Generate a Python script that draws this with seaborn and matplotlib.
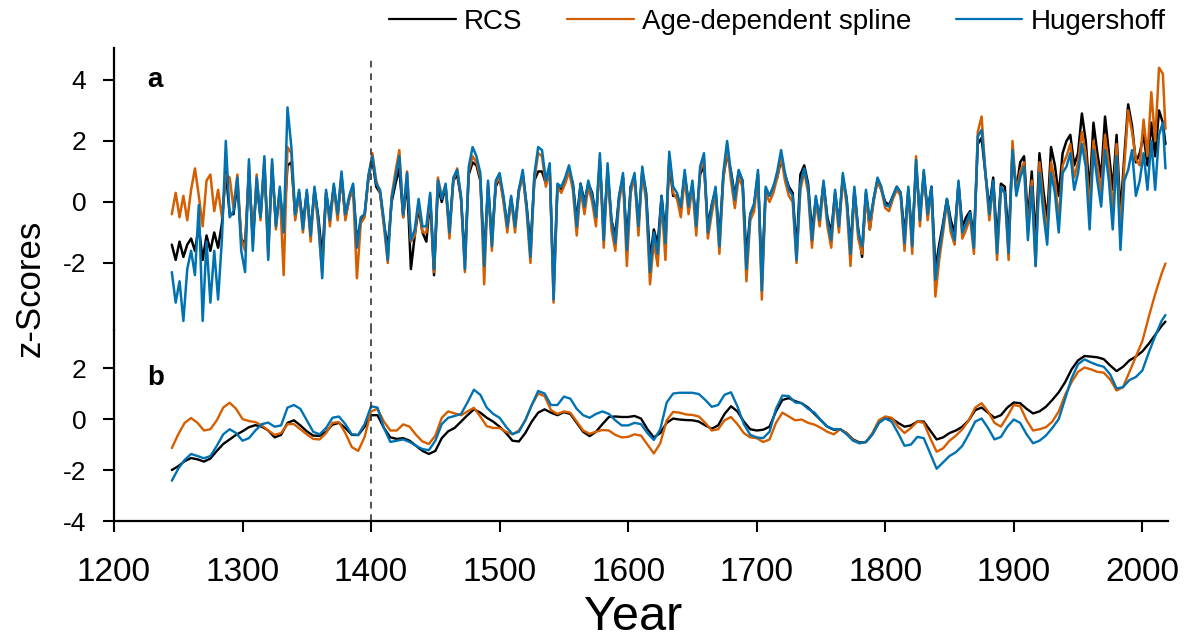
import numpy as np
import pandas as pd
import matplotlib
matplotlib.use("Agg")
import matplotlib.pyplot as plt
import seaborn as sns

# ---------------- data ----------------
series_names = ["RCS", "Age-dependent spline", "Hugershoff"]
series_colors = ["#000000", "#D55E00", "#0072B2"]

# panel a: annual-resolution series, sampled every 3 years
years_a = list(range(1245, 2017, 3)) + [2018]

hug_a = [
    -2.3, -3.3, -2.6, -3.9, -2.2, -1.6, -2.4, -0.1, -3.9, -1.3,
    -3.3, -1.6, -3.2, -1.2, 2.0, -0.5, -0.3, 0.8, -1.6, -2.3,
    1.4, -1.6, 0.8, -0.5, 1.5, -1.9, 1.4, -0.8, 0.5, -1.0,
    3.1, 1.8, -0.4, 0.4, -0.9, 0.4, -1.1, 0.5, -0.6, -2.5,
    0.4, -0.6, 0.6, -0.4, 1.0, -0.4, 0.2, 0.6, -1.5, -0.5,
    -0.4, 0.9, 1.5, 0.6,
    0.4, -0.6, -1.9, 0.1, 0.8, 1.5, -0.4, 0.95, -1.25, -0.9,
    0.1, -0.8, -0.8, 0.3, -2.2, 0.7, 0.1, 0.6, -1.0, 0.8,
    1.05, 0.2, -2.2, 1.15, 1.8, 1.5, 0.95, -2.1, 0.7, -1.45,
    0.7, 0.95, 0.2, -0.8, 0.2, -0.8, 0.4, 1.05, -0.15, -1.8,
    0.9, 1.8, 1.7, 0.7, 1.27, -3.2, 0.6, 0.5, 0.8, 1.2,
    0.6, -0.8, 0.6, -0.15, 0.7, 0.2, -0.5, 1.6, -1.25, 1.27,
    -0.6, -1.35, 0.2, 0.95, -1.57, 0.5, 0.95, -0.8, 1.16, 0.2,
    -2.3, -1.0, -1.7, 0.2, -1.35, 1.65, 0.5, 0.3, -0.15, 1.05,
    -0.15, 0.7, -0.8, 1.16, 1.6, -1.0, -0.15, 0.5, -1.45, 0.95,
    2.0, 0.95, 0.07, 1.05, 0.7, -2.2, -0.4, -0.05, 1.05, -2.9,
    0.5, 0.2, 0.5, 1.0, 1.7, 0.95, 0.4, 0.2, -1.9,
    0.6, 1.1, 0.5, -1.25, 0.2, -0.6, 0.7, -0.6, -1.25, 0.4,
    -0.8, 0.95, 0.1, -1.7, 0.5, -1.0, -1.45, 0.4, -0.6, 0.1,
    0.8, 0.5, -0.1, -0.15, 0.2, 0.5, 0.3, -1.35, 0.5, -1.45,
    1.38, -0.6, 1.05, -0.4, 0.5, -2.55, -1.6, -0.8, 0.1, -0.8,
    -1.25, 0.7, -1.0, -0.7, -0.35, -1.5, 2.15, 2.36, 0.95, -0.4,
    0.7, -1.68, 0.5, 0.3, -1.68, 1.7, 0.2, 0.8, 1.16, -1.25,
    0.5, -2.1, 0.95, -0.35, -1.4, 0.95, 0.3, -1.0, 0.95, 1.16,
    1.6, 0.4, 0.95, 1.9, 1.16, -0.9, 1.7, 0.7, -0.15, 1.7,
    0.7, -0.9, 1.5, -1.57, 0.7, 1.05, 1.7, 0.2, 0.7, 1.6,
    0.4, 2.0, 0.4, 2.2, 2.6, 1.1,
]

rcs_a = [
    -1.4, -1.9, -1.3, -1.8, -1.4, -1.2, -1.6, -0.8, -1.9, -1.1,
    -1.6, -1.0, -1.5, -0.7, 1.0, -0.4, -0.4, 0.6, -1.2, -1.4,
    1.0, -1.2, 0.6, -0.5, 1.2, -1.4, 1.1, -0.7, 0.3, -0.8,
    1.2, 1.3, -0.5, 0.3, -0.7, 0.3, -1.0, 0.4, -0.5, -1.8,
    0.3, -0.5, 0.5, -0.4, 0.8, -0.5, 0.1, 0.5, -1.3, -0.6,
    -0.4, 0.8, 1.4, 0.5,
    0.3, -0.7, -1.5, 0.0, 0.6, 1.1, -0.5, 0.7, -2.2, -1.1,
    -0.2, -1.0, -1.3, 0.1, -2.4, 0.5, 0.0, 0.5, -0.9, 0.7,
    0.9, 0.1, -1.9, 0.9, 1.3, 1.2, 0.7, -1.8, 0.5, -1.2,
    0.5, 0.8, 0.1, -0.8, 0.1, -0.8, 0.4, 0.9, -0.1, -1.5,
    0.7, 1.0, 1.0, 0.6, 1.0, -2.8, 0.5, 0.4, 0.7, 1.0,
    0.6, -0.6, 0.6, 0.0, 0.6, 0.3, -0.5, 1.3, -1.0, 1.0,
    -0.6, -1.1, 0.2, 0.8, -1.3, 0.5, 0.8, -0.7, 1.0, 0.3,
    -1.9, -0.9, -1.4, 0.2, -1.1, 1.3, 0.2, 0.2, -0.2, 0.9,
    0.0, 0.5, -0.6, 0.9, 1.2, -0.8, -0.1, 0.4, -1.2, 0.8,
    1.6, 1.0, 0.2, 1.0, 0.7, -1.8, -0.4, -0.1, 0.9, -2.5,
    0.4, 0.2, 0.5, 0.8, 1.4, 0.9, 0.5, 0.3, -1.6,
    0.9, 1.2, 0.6, -1.0, 0.1, -0.5, 0.6, -0.5, -1.0, 0.3,
    -0.7, 0.8, 0.1, -1.5, 0.4, -0.9, -1.8, 0.3, -0.9, 0.1,
    0.7, 0.4, 0.0, -0.1, 0.2, 0.5, 0.3, -1.1, 0.4, -1.2,
    1.2, -0.5, 0.9, -0.3, 0.5, -2.2, -1.4, -0.7, 0.1, -0.6,
    -1.0, 0.6, -0.8, -0.5, -0.3, -1.2, 1.9, 2.1, 0.9, -0.2,
    0.8, -1.3, 0.6, 0.5, -1.2, 1.6, 0.4, 1.3, 1.5, -0.6,
    1.0, -1.3, 1.6, 0.4, -0.6, 1.8, 1.2, 0.2, 1.6, 2.0,
    2.2, 1.2, 1.6, 2.9, 2.0, 0.3, 2.6, 1.6, 0.8, 2.8,
    1.6, 0.4, 2.2, -0.4, 1.5, 3.2, 2.5, 1.3, 1.6, 2.2,
    1.2, 2.6, 1.5, 3.0, 2.6, 1.9,
]

age_a = [
    -0.4, 0.3, -0.5, 0.2, -0.6, 0.4, 1.1, 0.2, -0.8, 0.7,
    0.9, -0.3, 0.4, -0.5, 0.9, 0.8, -0.2, 0.9, -1.2, -1.6,
    1.2, -1.4, 0.9, -0.6, 1.4, -1.8, 1.3, -0.9, 0.4, -2.4,
    1.8, 1.6, -0.6, 0.3, -1.0, 0.3, -1.3, 0.4, -0.8, -2.3,
    0.3, -0.8, 0.5, -0.6, 0.9, -0.6, 0.1, 0.4, -2.5, -0.7,
    -0.5, 0.8, 1.6, 0.7,
    0.3, -0.8, -2.0, 0.2, 1.0, 1.7, -0.5, 1.0, -1.3, -1.1,
    0.0, -1.0, -1.0, 0.2, -2.3, 0.8, 0.2, 0.5, -1.2, 0.7,
    1.1, 0.1, -2.3, 1.0, 1.5, 1.3, 0.8, -2.7, 0.6, -1.6,
    0.6, 0.8, 0.0, -1.0, 0.1, -1.0, 0.3, 0.9, -0.3, -2.0,
    0.7, 1.6, 1.5, 0.5, 1.1, -3.3, 0.5, 0.3, 0.6, 1.0,
    0.4, -1.1, 0.4, -0.4, 0.5, 0.0, -0.8, 1.4, -1.5, 1.1,
    -0.9, -1.6, 0.0, 0.8, -2.1, 0.3, 0.8, -1.1, 1.0, 0.0,
    -2.7, -1.3, -2.1, 0.0, -1.9, 1.5, 0.3, 0.1, -0.5, 0.8,
    -0.4, 0.5, -1.1, 1.0, 1.4, -1.2, -0.4, 0.3, -1.7, 0.7,
    1.8, 0.7, -0.2, 0.8, 0.5, -2.6, -0.6, -0.3, 0.9, -3.2,
    0.3, 0.0, 0.3, 0.8, 1.5, 0.7, 0.2, 0.0, -2.0,
    0.4, 1.0, 0.3, -1.5, 0.0, -0.8, 0.5, -0.8, -1.5, 0.2,
    -1.0, 0.8, -0.1, -2.1, 0.3, -1.2, -1.7, 0.2, -0.9, 0.0,
    0.7, 0.4, -0.2, -0.3, 0.1, 0.4, 0.2, -1.6, 0.4, -1.7,
    1.5, -0.8, 1.0, -0.6, 0.4, -3.1, -1.9, -1.0, 0.0, -1.0,
    -1.4, 0.6, -1.2, -0.9, -0.5, -1.7, 2.3, 2.8, 0.9, -0.6,
    0.6, -1.9, 0.4, 0.3, -1.9, 2.0, 0.3, 1.0, 1.3, -1.0,
    0.7, -2.1, 1.3, 0.0, -1.0, 1.3, 0.7, -0.6, 1.2, 1.5,
    1.9, 0.8, 1.3, 2.3, 1.6, -0.3, 2.0, 1.2, 0.3, 2.2,
    1.2, -0.3, 1.9, -1.0, 1.2, 3.0, 2.3, 1.4, 1.2, 2.7,
    1.5, 3.6, 2.0, 4.4, 4.2, 2.4,
]

# panel b: smoothed series, sampled every 5 years
years_b = list(range(1245, 2016, 5)) + [2018]

rcs_b = [
    -2.00, -1.85, -1.65, -1.53, -1.58, -1.67, -1.55, -1.25, -0.98, -0.80,
    -0.62, -0.48, -0.32, -0.24, -0.30, -0.45, -0.72, -0.62, -0.15, -0.05,
    -0.25, -0.48, -0.65, -0.66, -0.50, -0.22, -0.15, -0.35, -0.62, -0.63,
    -0.30, 0.15, 0.15, -0.35, -0.72, -0.78, -0.75, -0.85, -1.05, -1.25,
    -1.37, -1.25, -0.75, -0.48, -0.35, -0.10, 0.15, 0.38, 0.25, 0.05,
    -0.10, -0.30, -0.55, -0.85, -0.88, -0.55, -0.10, 0.25, 0.38, 0.25,
    0.15, 0.27, 0.20, -0.15, -0.50, -0.67, -0.50, -0.20, 0.08, 0.10,
    0.08, 0.08, 0.12, 0.02, -0.40, -0.72, -0.55, -0.15, 0.02, -0.02,
    -0.04, -0.05, -0.10, -0.25, -0.38, -0.25, 0.20, 0.50, 0.30, -0.10,
    -0.40, -0.45, -0.42, -0.30, 0.30, 0.75, 0.82, 0.70, 0.62, 0.45,
    0.20, -0.05, -0.30, -0.42, -0.40, -0.55, -0.80, -0.92, -0.90, -0.60,
    -0.15, 0.05, 0.02, -0.15, -0.30, -0.25, -0.10, -0.10, -0.45, -0.80,
    -0.72, -0.55, -0.45, -0.30, -0.05, 0.35, 0.45, 0.25, 0.05, 0.15,
    0.45, 0.65, 0.62, 0.40, 0.22, 0.30, 0.48, 0.75, 1.05, 1.45,
    1.95, 2.30, 2.47, 2.45, 2.42, 2.35, 2.10, 1.88, 2.05, 2.30,
    2.45, 2.65, 2.95, 3.30, 3.65, 3.82,
]

age_b = [
    -1.14, -0.60, -0.15, 0.04, -0.15, -0.45, -0.40, -0.05, 0.45, 0.64,
    0.40, 0.00, -0.08, -0.12, -0.25, -0.45, -0.62, -0.55, -0.20, -0.20,
    -0.40, -0.60, -0.78, -0.80, -0.55, -0.15, -0.12, -0.55, -1.10, -1.25,
    -0.70, 0.30, 0.40, -0.10, -0.45, -0.45, -0.21, -0.30, -0.62, -0.88,
    -0.98, -0.65, 0.05, 0.30, 0.22, 0.15, 0.30, 0.44, 0.10, -0.28,
    -0.35, -0.35, -0.50, -0.60, -0.45, -0.05, 0.55, 1.00, 0.90, 0.35,
    0.20, 0.30, 0.25, -0.10, -0.45, -0.58, -0.50, -0.43, -0.45, -0.62,
    -0.72, -0.70, -0.60, -0.65, -1.00, -1.35, -0.95, -0.05, 0.28, 0.25,
    0.18, 0.16, 0.10, -0.15, -0.45, -0.40, -0.05, 0.08, -0.20, -0.55,
    -0.72, -0.75, -0.90, -0.80, -0.15, 0.25, 0.10, -0.05, -0.02, -0.15,
    -0.22, -0.35, -0.50, -0.60, -0.40, -0.55, -0.82, -0.95, -0.90, -0.55,
    -0.05, 0.10, 0.05, -0.30, -0.55, -0.35, -0.10, -0.15, -0.75, -1.28,
    -1.15, -0.85, -0.65, -0.40, -0.05, 0.45, 0.62, 0.30, -0.15, -0.30,
    0.10, 0.55, 0.50, -0.05, -0.45, -0.40, -0.32, -0.10, 0.30, 0.95,
    1.45, 1.85, 2.02, 1.95, 1.85, 1.82, 1.55, 1.12, 1.25, 1.85,
    2.45, 3.05, 4.00, 4.90, 5.70, 6.10,
]

hug_b = [
    -2.42, -1.95, -1.60, -1.37, -1.45, -1.54, -1.45, -1.05, -0.60, -0.40,
    -0.55, -0.85, -0.75, -0.45, -0.20, -0.14, -0.30, -0.25, 0.45, 0.55,
    0.40, -0.05, -0.50, -0.60, -0.35, 0.05, 0.10, -0.20, -0.60, -0.62,
    -0.20, 0.50, 0.45, -0.35, -0.90, -0.85, -0.80, -0.90, -1.05, -1.18,
    -1.22, -0.85, -0.20, 0.05, 0.12, 0.20, 0.65, 1.15, 0.95, 0.45,
    0.20, 0.05, -0.30, -0.59, -0.50, -0.05, 0.55, 1.10, 1.00, 0.55,
    0.55, 0.88, 0.80, 0.40, 0.15, 0.05, 0.20, 0.30, 0.20, -0.05,
    -0.25, -0.25, -0.15, -0.20, -0.55, -0.82, -0.40, 0.65, 1.00, 1.03,
    1.03, 1.03, 0.98, 0.75, 0.48, 0.55, 0.95, 1.05, 0.50, -0.20,
    -0.62, -0.72, -0.75, -0.50, 0.40, 0.92, 0.90, 0.65, 0.62, 0.40,
    0.25, -0.05, -0.30, -0.40, -0.40, -0.60, -0.85, -0.95, -0.90, -0.60,
    -0.15, 0.02, -0.10, -0.55, -1.05, -1.00, -0.70, -0.75, -1.35, -1.95,
    -1.70, -1.45, -1.30, -1.05, -0.60, -0.10, 0.02, -0.35, -0.80, -0.70,
    -0.30, -0.02, -0.15, -0.60, -0.95, -0.85, -0.65, -0.35, 0.00, 0.80,
    1.60, 2.15, 2.34, 2.22, 2.12, 2.05, 1.75, 1.20, 1.25, 1.53,
    1.65, 1.90, 2.60, 3.25, 3.85, 4.08,
]

x_ticks = [1200, 1300, 1400, 1500, 1600, 1700, 1800, 1900, 2000]
yticks_a = [-2, 0, 2, 4]
yticks_b = [-4, -2, 0, 2]

# ---------------- style ----------------
sns.set_style("ticks", {"axes.edgecolor": "black", "text.color": "black",
                        "xtick.color": "black", "ytick.color": "black",
                        "axes.labelcolor": "black"})
plt.rcParams["font.family"] = ["Liberation Sans", "DejaVu Sans"]

fig = plt.figure(figsize=(11.96, 6.43), dpi=100)
ax_a = fig.add_axes([0.0953, 0.4868, 0.8813, 0.4386])
ax_b = fig.add_axes([0.0953, 0.1897, 0.8813, 0.2970], sharex=ax_a)

df_a = pd.DataFrame({"year": years_a * 3,
                     "value": rcs_a + age_a + hug_a,
                     "series": sum([[s] * len(years_a) for s in series_names], [])})
df_b = pd.DataFrame({"year": years_b * 3,
                     "value": rcs_b + age_b + hug_b,
                     "series": sum([[s] * len(years_b) for s in series_names], [])})

palette = dict(zip(series_names, series_colors))
for name in series_names:
    sns.lineplot(data=df_a[df_a.series == name], x="year", y="value",
                 color=palette[name], lw=1.8, ax=ax_a, label=name,
                 estimator=None, clip_on=False)
    sns.lineplot(data=df_b[df_b.series == name], x="year", y="value",
                 color=palette[name], lw=1.7, ax=ax_b, legend=False,
                 estimator=None, clip_on=False)

ylim_a = (-4.197, 5.049)
ylim_b = (-4.0, 3.49)
ax_a.set_xlim(1200, 2020)
ax_a.set_ylim(*ylim_a)
ax_b.set_ylim(*ylim_b)

# dashed marker at 1400
dash_top = 4.72
ax_a.axvline(1400, ymin=0, ymax=(dash_top - ylim_a[0]) / (ylim_a[1] - ylim_a[0]),
             color="#333333", lw=1.2, dashes=(4, 3.5))
ax_b.axvline(1400, color="#333333", lw=1.2, dashes=(4, 3.5))

for ax in (ax_a, ax_b):
    ax.spines["right"].set_visible(False)
    ax.spines["top"].set_visible(False)
    ax.spines["left"].set_linewidth(1.6)
    ax.spines["bottom"].set_linewidth(1.6)
    ax.spines["left"].set_color("black")
    ax.spines["bottom"].set_color("black")
    ax.set_xlabel("")
    ax.set_ylabel("")
    ax.tick_params(axis="y", direction="out", length=8, width=1.5,
                   labelsize=19, pad=12, colors="black")
    ax.patch.set_alpha(0)

ax_a.spines["bottom"].set_visible(False)
ax_a.tick_params(axis="x", bottom=False, labelbottom=False)
ax_a.set_yticks(yticks_a)
ax_a.set_yticklabels([str(v) for v in yticks_a])
ax_b.set_yticks(yticks_b)
ax_b.set_yticklabels([str(v) for v in yticks_b])
ax_b.set_xticks(x_ticks)
ax_b.set_xticklabels([str(v) for v in x_ticks])
ax_b.tick_params(axis="x", direction="out", length=8, width=1.5,
                 labelsize=24, pad=18, colors="black")

ax_a.text(0.032, 0.86, "a", transform=ax_a.transAxes, fontsize=20,
          fontweight="bold", ha="left", va="baseline", color="black")
ax_b.text(0.032, 0.71, "b", transform=ax_b.transAxes, fontsize=20,
          fontweight="bold", ha="left", va="baseline", color="black")

fig.text(0.025, 0.552, "z-Scores", rotation=90, fontsize=25,
         ha="center", va="center", color="black")
fig.text(0.529, 0.04, "Year", fontsize=35, ha="center", va="center",
         color="black")

handles, labels = ax_a.get_legend_handles_labels()
if ax_a.legend_:
    ax_a.legend_.remove()
leg = fig.legend(handles, labels, loc="center", bbox_to_anchor=(0.650, 0.966),
                 ncol=3, frameon=False, fontsize=20, handlelength=2.4,
                 handletextpad=0.3, columnspacing=1.6)
for line in leg.get_lines():
    line.set_linewidth(1.6)
for t in leg.get_texts():
    t.set_color("black")

fig.savefig("out.png", dpi=100)
